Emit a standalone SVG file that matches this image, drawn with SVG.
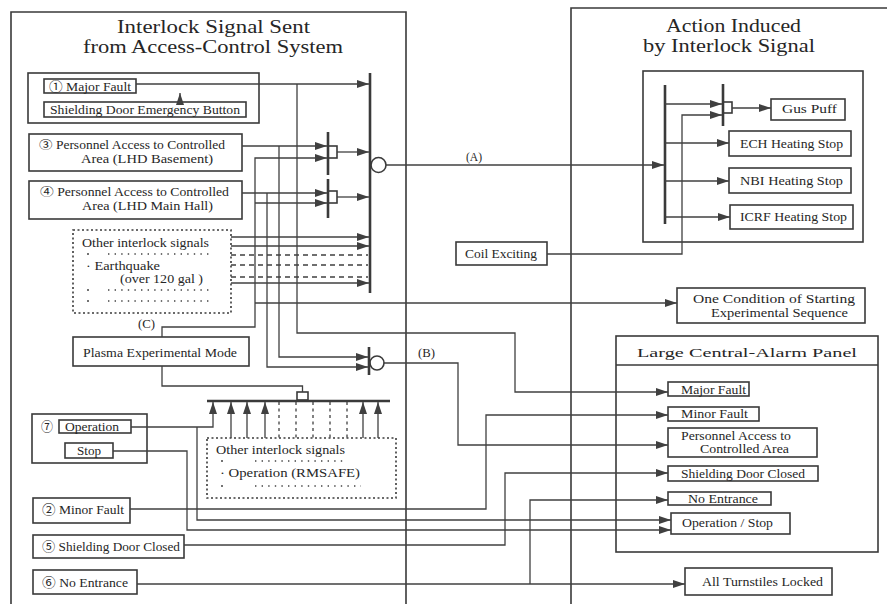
<svg xmlns="http://www.w3.org/2000/svg" width="887" height="604" viewBox="0 0 887 604">
<style>
.bx{fill:none;stroke:#3a3a3a;stroke-width:1.6}
.ln{fill:none;stroke:#404040;stroke-width:1.3}
.dash{stroke-dasharray:5 4}
.dotb{fill:none;stroke:#3a3a3a;stroke-width:1.6;stroke-dasharray:2 2.5}
.dr{stroke:#444;stroke-width:1.4;stroke-dasharray:1.4 5.2}
.bar{stroke:#3a3a3a;stroke-width:2.6}
.t{font-family:"Liberation Serif","DejaVu Serif","Noto Sans CJK JP",serif;font-size:13px;fill:#262626}
.s{font-size:11.5px}
.h{font-size:18px}
</style>
<defs>
<marker id="ah" markerWidth="12" markerHeight="8" refX="12" refY="4" orient="auto" markerUnits="userSpaceOnUse"><path d="M0,0 L12,4 L0,8 z" fill="#404040"/></marker>
</defs>
<rect width="887" height="604" fill="#fff"/>

<g id="panel-left">
<path class="bx" d="M11,604 V12 H406 V604"/>
<text class="t h" x="117" y="33" textLength="193" lengthAdjust="spacingAndGlyphs">Interlock Signal Sent</text>
<text class="t h" x="83" y="53" textLength="260" lengthAdjust="spacingAndGlyphs">from  Access-Control System</text>
</g>
<g id="panel-right">
<path class="bx" d="M571,604 V8 H887"/>
<text class="t h" x="666" y="32" textLength="135" lengthAdjust="spacingAndGlyphs">Action Induced</text>
<text class="t h" x="643" y="52" textLength="172" lengthAdjust="spacingAndGlyphs">by Interlock Signal</text>
</g>

<g id="major-fault-group">
<rect class="bx" x="28" y="73" width="231" height="50"/>
<rect class="bx" x="44" y="79" width="92" height="14"/>
<text class="t" x="49" y="91" textLength="82" lengthAdjust="spacingAndGlyphs">① Major Fault</text>
<rect class="bx" x="44" y="102" width="202" height="15"/>
<text class="t" x="50" y="114" textLength="190" lengthAdjust="spacingAndGlyphs">Shielding Door Emergency Button</text>
</g>
<g id="access-basement">
<rect class="bx" x="29" y="134" width="213" height="37"/>
<text class="t s" x="39" y="149" textLength="186" lengthAdjust="spacingAndGlyphs">③ Personnel Access to Controlled</text>
<text class="t s" x="81" y="163" textLength="132" lengthAdjust="spacingAndGlyphs">Area  (LHD Basement)</text>
</g>
<g id="access-mainhall">
<rect class="bx" x="29" y="181" width="213" height="38"/>
<text class="t s" x="40" y="196" textLength="189" lengthAdjust="spacingAndGlyphs">④ Personnel Access to Controlled</text>
<text class="t s" x="82" y="210" textLength="131" lengthAdjust="spacingAndGlyphs">Area  (LHD Main Hall)</text>
</g>
<g id="other-signals-upper">
<rect class="dotb" x="73" y="230" width="158" height="83"/>
<text class="t" x="82" y="247" textLength="127" lengthAdjust="spacingAndGlyphs">Other interlock signals</text>
<circle cx="88" cy="254" r="1" fill="#444"/>
<line class="dr" x1="108" y1="254" x2="213" y2="254"/>
<text class="t s" x="86" y="270" textLength="74" lengthAdjust="spacingAndGlyphs">· Earthquake</text>
<text class="t s" x="120" y="283" textLength="83" lengthAdjust="spacingAndGlyphs">(over 120 gal )</text>
<circle cx="88" cy="290" r="1" fill="#444"/>
<line class="dr" x1="108" y1="290" x2="213" y2="290"/>
<circle cx="88" cy="301" r="1" fill="#444"/>
<line class="dr" x1="108" y1="301" x2="213" y2="301"/>
</g>
<g id="c-label"><text class="t" x="138" y="328" textLength="17" lengthAdjust="spacingAndGlyphs">(C)</text></g>
<g id="plasma-mode">
<rect class="bx" x="73" y="337" width="176" height="29"/>
<text class="t" x="83" y="357" textLength="154" lengthAdjust="spacingAndGlyphs">Plasma Experimental Mode</text>
</g>

<g id="gate-1">
<line class="bar" x1="328" y1="132" x2="328" y2="175"/>
<rect class="bx" x="328" y="146" width="9" height="12"/>
</g>
<g id="gate-2">
<line class="bar" x1="328" y1="179" x2="328" y2="218"/>
<rect class="bx" x="328" y="191" width="9" height="12"/>
</g>
<g id="gate-a">
<line class="bar" x1="370" y1="73" x2="370" y2="293"/>
<circle class="bx" cx="378.5" cy="165" r="7.5"/>
<text class="t" x="466" y="161" textLength="16" lengthAdjust="spacingAndGlyphs">(A)</text>
</g>
<g id="gate-b">
<line class="bar" x1="369" y1="347" x2="369" y2="375"/>
<circle class="bx" cx="377" cy="363" r="7"/>
<text class="t" x="418" y="357" textLength="17" lengthAdjust="spacingAndGlyphs">(B)</text>
</g>
<g id="lower-bus">
<line class="bar" x1="207" y1="401" x2="390" y2="401"/>
<rect class="bx" x="297" y="392" width="11" height="8"/>
</g>
<g id="other-signals-lower">
<rect class="dotb" x="207" y="438" width="189" height="60"/>
<text class="t" x="216" y="454" textLength="129" lengthAdjust="spacingAndGlyphs">Other interlock signals</text>
<circle cx="222" cy="461" r="1" fill="#444"/>
<line class="dr" x1="255" y1="461" x2="343" y2="461"/>
<text class="t" x="220" y="477" textLength="140" lengthAdjust="spacingAndGlyphs">· Operation (RMSAFE)</text>
<circle cx="222" cy="486" r="1" fill="#444"/>
<line class="dr" x1="255" y1="486" x2="361" y2="486"/>
</g>
<g id="op-stop-group">
<rect class="bx" x="32" y="414" width="115" height="49"/>
<text class="t" x="41" y="431" textLength="12" lengthAdjust="spacingAndGlyphs">⑦</text>
<rect class="bx" x="59" y="420" width="72" height="13"/>
<text class="t" x="65" y="431" textLength="54" lengthAdjust="spacingAndGlyphs">Operation</text>
<rect class="bx" x="65" y="443" width="48" height="15"/>
<text class="t" x="77" y="455" textLength="24" lengthAdjust="spacingAndGlyphs">Stop</text>
</g>
<g id="minor-fault">
<rect class="bx" x="33" y="498" width="97" height="25"/>
<text class="t" x="42" y="514" textLength="82" lengthAdjust="spacingAndGlyphs">② Minor Fault</text>
</g>
<g id="shielding-closed">
<rect class="bx" x="33" y="535" width="151" height="23"/>
<text class="t" x="42" y="551" textLength="138" lengthAdjust="spacingAndGlyphs">⑤ Shielding Door Closed</text>
</g>
<g id="no-entrance">
<rect class="bx" x="33" y="570" width="104" height="24"/>
<text class="t" x="42" y="587" textLength="86" lengthAdjust="spacingAndGlyphs">⑥ No Entrance</text>
</g>

<g id="coil-exciting">
<rect class="bx" x="456" y="242" width="91" height="23"/>
<text class="t" x="465" y="258" textLength="72" lengthAdjust="spacingAndGlyphs">Coil Exciting</text>
</g>
<g id="action-box">
<rect class="bx" x="643" y="71" width="220" height="171"/>
<line class="bar" x1="665" y1="85" x2="665" y2="224"/>
<line class="bar" x1="723" y1="84" x2="723" y2="126"/>
<rect class="bx" x="723" y="102" width="9" height="11"/>
</g>
<g id="gas-puff">
<rect class="bx" x="771" y="99" width="74" height="21"/>
<text class="t" x="782" y="113" textLength="55" lengthAdjust="spacingAndGlyphs">Gus  Puff</text>
</g>
<g id="ech-stop">
<rect class="bx" x="729" y="131" width="122" height="25"/>
<text class="t" x="740" y="148" textLength="103" lengthAdjust="spacingAndGlyphs">ECH Heating Stop</text>
</g>
<g id="nbi-stop">
<rect class="bx" x="729" y="168" width="122" height="25"/>
<text class="t" x="740" y="185" textLength="103" lengthAdjust="spacingAndGlyphs">NBI Heating Stop</text>
</g>
<g id="icrf-stop">
<rect class="bx" x="730" y="205" width="123" height="24"/>
<text class="t" x="740" y="221" textLength="107" lengthAdjust="spacingAndGlyphs">ICRF Heating Stop</text>
</g>
<g id="start-condition">
<rect class="bx" x="677" y="288" width="188" height="35"/>
<text class="t s" x="693" y="303" textLength="162" lengthAdjust="spacingAndGlyphs">One  Condition  of  Starting</text>
<text class="t s" x="711" y="317" textLength="137" lengthAdjust="spacingAndGlyphs">Experimental  Sequence</text>
</g>
<g id="alarm-panel">
<rect class="bx" x="616" y="336" width="262" height="216"/>
<line class="bx" x1="616" y1="365" x2="878" y2="365"/>
<text class="t" x="637" y="357" font-size="18" textLength="220" lengthAdjust="spacingAndGlyphs">Large Central-Alarm Panel</text>
</g>
<g id="alarm-major">
<rect class="bx" x="668" y="382" width="81" height="14"/>
<text class="t" x="681" y="394" textLength="65" lengthAdjust="spacingAndGlyphs">Major Fault</text>
</g>
<g id="alarm-minor">
<rect class="bx" x="668" y="407" width="91" height="14"/>
<text class="t" x="681" y="418" textLength="67" lengthAdjust="spacingAndGlyphs">Minor Fault</text>
</g>
<g id="alarm-access">
<rect class="bx" x="668" y="428" width="149" height="29"/>
<text class="t s" x="681" y="440" textLength="110" lengthAdjust="spacingAndGlyphs">Personnel Access to</text>
<text class="t s" x="700" y="453" textLength="89" lengthAdjust="spacingAndGlyphs">Controlled  Area</text>
</g>
<g id="alarm-shielding">
<rect class="bx" x="668" y="466" width="150" height="15"/>
<text class="t" x="681" y="478" textLength="124" lengthAdjust="spacingAndGlyphs">Shielding Door Closed</text>
</g>
<g id="alarm-noentrance">
<rect class="bx" x="668" y="492" width="103" height="13"/>
<text class="t" x="688" y="503" textLength="70" lengthAdjust="spacingAndGlyphs">No Entrance</text>
</g>
<g id="alarm-opstop">
<rect class="bx" x="671" y="513" width="119" height="21"/>
<text class="t" x="682" y="527" textLength="91" lengthAdjust="spacingAndGlyphs">Operation / Stop</text>
</g>
<g id="turnstiles">
<rect class="bx" x="685" y="568" width="147" height="27"/>
<text class="t" x="702" y="586" textLength="121" lengthAdjust="spacingAndGlyphs">All Turnstiles Locked</text>
</g>

<g id="connectors" class="ln">
<path d="M180,102 V93" marker-end="url(#ah)"/>
<path d="M136,84 H369" marker-end="url(#ah)"/>
<path d="M297,84 V333 H515 V392 H668" marker-end="url(#ah)"/>
<path d="M242,146 H327" marker-end="url(#ah)"/>
<path d="M279,146 V357 H368" marker-end="url(#ah)"/>
<path d="M242,193 H327" marker-end="url(#ah)"/>
<path d="M267,193 V367 H368" marker-end="url(#ah)"/>
<path d="M162,337 V327 H255 V158 H327" marker-end="url(#ah)"/>
<path d="M255,203 H327" marker-end="url(#ah)"/>
<path d="M255,303 H677" marker-end="url(#ah)"/>
<path d="M337,152 H369" marker-end="url(#ah)"/>
<path d="M337,197 H369" marker-end="url(#ah)"/>
<path d="M231,237 H369" marker-end="url(#ah)"/>
<path d="M231,246 H369" marker-end="url(#ah)"/>
<path class="dash" d="M231,255 H368"/>
<path class="dash" d="M231,265 H368"/>
<path class="dash" d="M231,277 H368"/>
<path d="M231,283 H369" marker-end="url(#ah)"/>
<path d="M386,165 H664" marker-end="url(#ah)"/>
<path d="M384,363 H458 V445 H668" marker-end="url(#ah)"/>
<path d="M162,366 V386 H302.5 V392"/>
<path d="M547,254 H682 V115 H722" marker-end="url(#ah)"/>
<path d="M665,104 H722" marker-end="url(#ah)"/>
<path d="M665,143 H729" marker-end="url(#ah)"/>
<path d="M665,181 H729" marker-end="url(#ah)"/>
<path d="M665,217 H730" marker-end="url(#ah)"/>
<path d="M732,108 H771" marker-end="url(#ah)"/>
<path d="M131,427 H213 V402" marker-end="url(#ah)"/>
<path d="M197,427 V520 H671" marker-end="url(#ah)"/>
<path d="M113,451 H187 V530 H671" marker-end="url(#ah)"/>
<path d="M130,509 H486 V415 H668" marker-end="url(#ah)"/>
<path d="M184,545 H505 V473 H668" marker-end="url(#ah)"/>
<path d="M137,584 H685" marker-end="url(#ah)"/>
<path d="M530,584 V500 H668" marker-end="url(#ah)"/>
<path d="M231,438 V402" marker-end="url(#ah)"/>
<path d="M247,438 V402" marker-end="url(#ah)"/>
<path d="M265,438 V402" marker-end="url(#ah)"/>
<path d="M363,438 V402" marker-end="url(#ah)"/>
<path d="M378,438 V402" marker-end="url(#ah)"/>
<path class="dash" d="M279,402 V438 M296,402 V438 M313,402 V438 M330,402 V438 M347,402 V438" style="stroke-dasharray:3 3.5"/>
</g>
</svg>
